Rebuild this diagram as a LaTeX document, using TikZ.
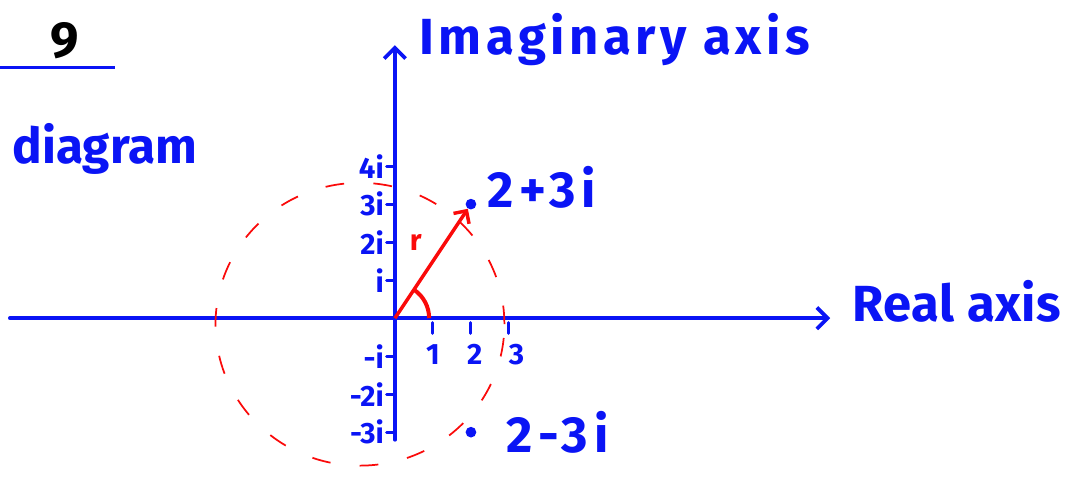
\documentclass[tikz,border=0pt]{standalone}
\usepackage{fontspec}
\setmainfont{Fira Sans}
\usepackage{xcolor}
\usetikzlibrary{positioning,calc,arrows.meta}

\definecolor{penblue}{RGB}{10,20,245}
\definecolor{penred}{RGB}{250,10,10}

\begin{document}
\begin{tikzpicture}[x=1cm,y=1cm,
  axis/.style={penblue, line width=2.8pt, line cap=round},
  tick/.style={penblue, line width=2.2pt, line cap=round},
  lbl/.style={penblue, font=\fontsize{22}{22}\selectfont\bfseries, inner sep=1pt},
  big/.style={penblue, font=\fontsize{37}{37}\selectfont\bfseries, inner sep=1pt},
  wide/.style={big, font=\fontsize{38}{38}\selectfont\bfseries\addfontfeature{LetterSpace=#1}},
  dot/.style={circle, fill=penblue, inner sep=0pt, minimum size=8pt}]

\useasboundingbox (-10.39,-4.24) rectangle (17.76,8.37);

% Axes
\coordinate (xl) at (-10.13,0);
\coordinate (xr) at (11.45,0);
\coordinate (yb) at (0,-3.2);
\coordinate (yt) at (0,7.18);
\coordinate (O) at (0,0);
\draw[axis, -{Straight Barb[length=8pt,width=16pt]}] (xl) -- (xr);
\draw[axis, -{Straight Barb[length=8pt,width=16pt]}] (yb) -- (yt);

\node[wide=9, anchor=south west] (imag) at (0.6,6.6) {Imaginary axis};
\node[wide=1, anchor=west] (real) at (12.0,0.45) {Real axis};

% Ticks
\foreach \k/\t in {4/4i,3/3i,2/2i,1/i,-1/-i,-2/-2i,-3/-3i}{
  \draw[tick] (-0.22,\k) -- (0,\k);
  \node[lbl, anchor=east] (y\k) at (-0.25,\k) {\t};
}
\foreach \k in {1,2,3}{
  \draw[tick] (\k,-0.12) -- (\k,-0.4);
  \node[lbl] (x\k) at (\k+0.1*\k-0.1,-0.95) {\k};
}

% Circle
\draw[penred, line width=1.3pt, dash pattern=on 14pt off 22pt]
  (-0.92,-0.16) ellipse [x radius=3.8, y radius=3.72];

% Points
\node[dot] (z) at (2,3) {};
\node[dot] (zc) at (2,-3) {};
\node[wide=12, anchor=west] (zl) at (2.4,3.45) {2+3i};
\node[wide=12, anchor=west] (zcl) at (2.9,-3.0) {2-3i};

% Modulus and argument
\draw[penred, line width=2.6pt, -{Straight Barb[length=7pt,width=14pt]}] (O) -- (z);
\node[penred, font=\fontsize{22}{22}\selectfont\bfseries] (r) at (0.55,2.0) {r};
\draw[penred, line width=3pt] (0.9,0) arc[start angle=0, end angle=56, radius=0.9];

% Heading
\node[black, font=\fontsize{38}{38}\selectfont\bfseries] (num) at (-8.68,7.3) {9};
\coordinate (hl) at (-10.39,6.6);
\coordinate (hr) at (-7.37,6.6);
\draw[penblue, line width=2.2pt] (hl) -- (hr);
\node[big, anchor=west] (diag) at (-10.1,4.45) {diagram};

\end{tikzpicture}
\end{document}
